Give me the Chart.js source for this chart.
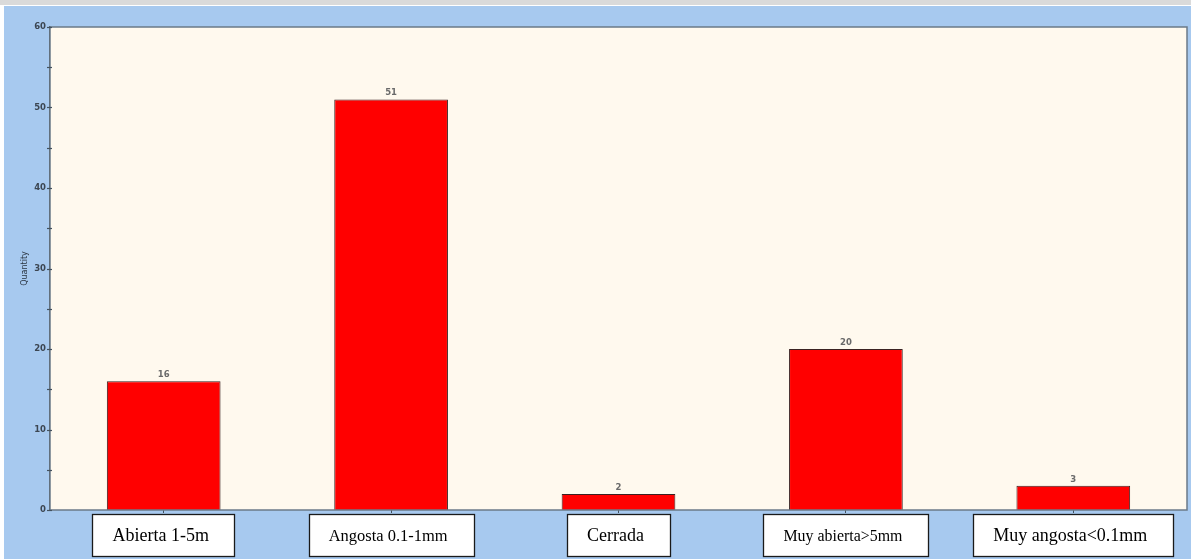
<!DOCTYPE html>
<html>
<head>
<meta charset="utf-8">
<script src="https://cdn.jsdelivr.net/npm/chart.js@4.4.1/dist/chart.umd.min.js"></script>
<style>
  html, body { margin: 0; padding: 0; background: #ffffff; }
  body { width: 1191px; height: 559px; position: relative; overflow: hidden; }
  #topline { position: absolute; left: 0; top: 0; width: 1191px; height: 5px; background: #dadada; }
  #panel { position: absolute; left: 4px; top: 6px; width: 1187px; height: 553px; background: #a7c9ef; }
  canvas { display: block; }
</style>
</head>
<body>
<div id="topline"></div>
<div id="panel"><canvas id="chart" width="1187" height="553"></canvas></div>
<script>
// Fracture aperture classes and their counts
const categories = ['Abierta 1-5m', 'Angosta 0.1-1mm', 'Cerrada', 'Muy abierta>5mm', 'Muy angosta<0.1mm'];
const quantities = [16, 51, 2, 20, 3];
const yTicks = [0, 10, 20, 30, 40, 50, 60];

const PLOT_BG = '#fff9ee';
const AXIS_COLOR = '#44525f';
const LABEL_FONT = '"Liberation Serif", "Times New Roman", serif';
// text width limits for the two middle-length category labels
const LABEL_FIT = { 'Angosta 0.1-1mm': 119, 'Muy abierta>5mm': 119 };

const framePlugin = {
  id: 'frame',
  beforeDatasetsDraw(chart) {
    const { ctx, chartArea: a } = chart;
    ctx.save();
    ctx.fillStyle = PLOT_BG;
    ctx.fillRect(a.left, a.top, a.right - a.left, a.bottom - a.top);
    ctx.restore();
  },
  afterDatasetsDraw(chart) {
    const { ctx } = chart;
    const meta = chart.getDatasetMeta(0);
    ctx.save();
    ctx.font = 'bold 8.5px "DejaVu Sans", sans-serif';
    ctx.fillStyle = '#6a6a6a';
    ctx.textAlign = 'center';
    ctx.textBaseline = 'middle';
    meta.data.forEach((bar, i) => {
      ctx.fillText(String(quantities[i]), bar.x, bar.y - 6.5);
    });
    ctx.restore();
  },
  afterDraw(chart) {
    const { ctx, chartArea: a } = chart;
    const x = chart.scales.x;
    const y = chart.scales.y;
    ctx.save();
    // plot border
    ctx.strokeStyle = '#6b7988';
    ctx.lineWidth = 1.5;
    ctx.strokeRect(a.left, a.top, a.right - a.left, a.bottom - a.top);
    // tick marks crossing the value axis, every 5 units
    ctx.strokeStyle = AXIS_COLOR;
    ctx.lineWidth = 1.2;
    y.ticks.forEach((t) => {
      const py = Math.round(y.getPixelForValue(t.value)) + 0.5;
      ctx.beginPath();
      ctx.moveTo(a.left - 3, py);
      ctx.lineTo(a.left + 2, py);
      ctx.stroke();
    });
    // category labels in boxes below the axis
    ctx.textBaseline = 'middle';
    ctx.textAlign = 'left';
    const boxTop = a.bottom + 4;
    const boxH = 42;
    categories.forEach((label, i) => {
      let size = 18;
      ctx.font = size + 'px ' + LABEL_FONT;
      let tw = ctx.measureText(label).width;
      const limit = LABEL_FIT[label];
      if (limit && tw > limit) {
        size = size * limit / tw;
        ctx.font = size.toFixed(2) + 'px ' + LABEL_FONT;
        tw = ctx.measureText(label).width;
      }
      const cx = x.getPixelForValue(i) - 3;
      const tx = cx - tw / 2;
      const bx = Math.round(tx - 20) + 0.5;
      const bw = Math.round(tw + 46);
      ctx.fillStyle = '#ffffff';
      ctx.fillRect(bx, boxTop + 0.5, bw, boxH);
      ctx.strokeStyle = '#1a1a1a';
      ctx.lineWidth = 1.3;
      ctx.strokeRect(bx, boxTop + 0.5, bw, boxH);
      ctx.fillStyle = '#000000';
      ctx.fillText(label, tx, boxTop + boxH / 2 + 1.5);
    });
    ctx.restore();
  }
};

new Chart(document.getElementById('chart'), {
  type: 'bar',
  data: {
    labels: categories,
    datasets: [{
      data: quantities,
      backgroundColor: '#ff0000',
      borderColor: '#3a2222',
      borderWidth: 1,
      borderSkipped: 'bottom',
      barPercentage: 0.5,
      categoryPercentage: 1.0
    }]
  },
  options: {
    responsive: false,
    animation: false,
    devicePixelRatio: 1,
    layout: { padding: { left: 0, top: 21, right: 4, bottom: 0 } },
    plugins: {
      legend: { display: false },
      tooltip: { enabled: false }
    },
    scales: {
      x: {
        type: 'category',
        offset: true,
        grid: {
          display: true,
          offset: false,
          drawOnChartArea: false,
          drawTicks: true,
          tickLength: 3,
          color: AXIS_COLOR
        },
        border: { display: false },
        ticks: { display: false },
        afterFit(scale) { scale.height = 49; }
      },
      y: {
        min: 0,
        max: 60,
        grid: {
          display: false,
          drawOnChartArea: false,
          drawTicks: false
        },
        border: { display: true, color: AXIS_COLOR, width: 1.5 },
        ticks: {
          stepSize: 5,
          padding: 4,
          color: '#3c4652',
          font: { family: '"DejaVu Sans", sans-serif', size: 8.5, weight: 'bold' },
          callback: (v) => (yTicks.includes(v) ? String(v) : '')
        },
        title: {
          display: true,
          text: 'Quantity',
          color: '#2a3440',
          font: { family: '"DejaVu Sans", sans-serif', size: 8 },
          padding: { top: 16, bottom: 0 }
        },
        afterFit(scale) { scale.width = 46; }
      }
    }
  },
  plugins: [framePlugin]
});
</script>
</body>
</html>
